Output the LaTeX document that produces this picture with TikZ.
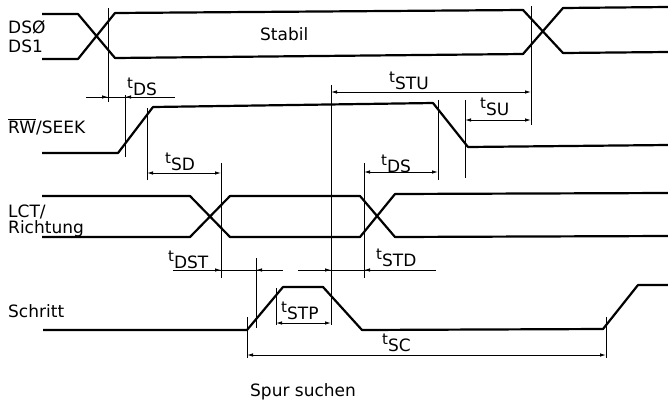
\documentclass[tikz,border=0pt]{standalone}
\usepackage{fontspec}
\setmainfont{DejaVu Sans}
\usetikzlibrary{arrows.meta}
\newcommand\tsub[1]{{\fontsize{15}{17}\selectfont t}\raisebox{-7pt}{#1}}
\begin{document}
\begin{tikzpicture}[x=1pt,y=-1pt,
  sig/.style={line width=2.2pt, line join=round},
  refl/.style={line width=0.8pt},
  dimline/.style={line width=0.9pt},
  arr/.style={dimline,-{Latex[length=6pt,width=3.5pt]}},
  biarr/.style={dimline,{Latex[length=6pt,width=3.5pt]}-{Latex[length=6pt,width=3.5pt]}},
  lbl/.style={inner sep=0, anchor=base west, font=\fontsize{17}{20}\selectfont},
  tl/.style={inner sep=0, anchor=base west, font=\fontsize{17}{20}\selectfont}]
\useasboundingbox (0,0) rectangle (668,402);

% ---- signal labels
\node[lbl] (ds0) at (8,33) {DSØ};
\node[lbl] (ds1) at (8,52) {DS1};
\node[lbl] (stabil) at (260,40) {Stabil};
\node[lbl] (rw) at (8,133) {$\overline{\hbox{RW}}$/SEEK};
\node[lbl] (lct) at (8,217) {LCT/};
\node[lbl] (richt) at (8,233) {Richtung};
\node[lbl] (schritt) at (8,317) {Schritt};
\node[lbl] (spur) at (250,396) {Spur suchen};

% ---- DS0/DS1 bus
\draw[sig] (42,14) -- (78,14) -- (115,58) -- (523,54) -- (563,8) -- (668,7);
\draw[sig] (42,59) -- (78,59) -- (115,13) -- (523,10) -- (563,53) -- (668,52);

% ---- RW/SEEK
\draw[sig] (42,153) -- (118,153) -- (153,107) -- (433,103) -- (468,147) -- (668,145);

% ---- LCT/Richtung
\draw[sig] (42,196) -- (190,196) -- (230,237) -- (360,237) -- (395,194) -- (668,193);
\draw[sig] (42,237) -- (190,237) -- (230,196) -- (360,196) -- (395,237) -- (668,236);

% ---- Schritt
\draw[sig] (43,330) -- (247,330) -- (283,287) -- (323,287) -- (362,330) -- (603,329) -- (638,285) -- (668,285);

% ---- reference lines
\draw[refl] (108,8) -- (108,102);
\draw[refl] (125,95) -- (125,157);
\draw[refl] (147,108) -- (147,180);
\draw[refl] (221,163) -- (221,278);
\draw[refl] (256,258) -- (256,328);
\draw[refl] (276,288) -- (276,325);
\draw[refl] (331,85) -- (331,325);
\draw[refl] (364,163) -- (364,278);
\draw[refl] (438,100) -- (438,180);
\draw[refl] (465,100) -- (465,178);
\draw[refl] (531,6) -- (531,125);
\draw[refl] (247,317) -- (247,358);
\draw[refl] (606,317) -- (606,358);

% ---- dimensions
% tDS (1)
\draw[dimline] (86,97) -- (175,97);
\draw[arr] (92,97) -- (108,97);
\draw[arr] (150,97) -- (125,97);
\node[tl] (tds1) at (127,88) {\tsub{DS}};
% tSD
\draw[biarr] (147,173) -- (221,173);
\node[tl] (tsd) at (165,163) {\tsub{SD}};
% tDS (2)
\draw[biarr] (364,172) -- (438,172);
\node[tl] (tds2) at (381,165) {\tsub{DS}};
% tSTU
\draw[biarr] (331,92) -- (531,92);
\node[tl] (tstu) at (389,82) {\tsub{STU}};
% tSU
\draw[biarr] (465,120) -- (531,120);
\node[tl] (tsu) at (480,108) {\tsub{SU}};
% tDST
\draw[dimline] (173,270) -- (283,270);
\draw[arr] (200,270) -- (221,270);
\draw[arr] (280,270) -- (256,270);
\node[tl] (tdst) at (168,261) {\tsub{DST}};
% tSTD
\draw[dimline] (298,270) -- (436,270);
\draw[arr] (305,270) -- (331,270);
\draw[arr] (390,270) -- (364,270);
\node[tl] (tstd) at (376,259) {\tsub{STD}};
% tSTP
\draw[biarr] (276,323) -- (331,323);
\node[tl] (tstp) at (281,312) {\tsub{STP}};
% tSC
\draw[biarr] (247,355) -- (606,355);
\node[tl] (tsc) at (382,344) {\tsub{SC}};
\end{tikzpicture}
\end{document}
